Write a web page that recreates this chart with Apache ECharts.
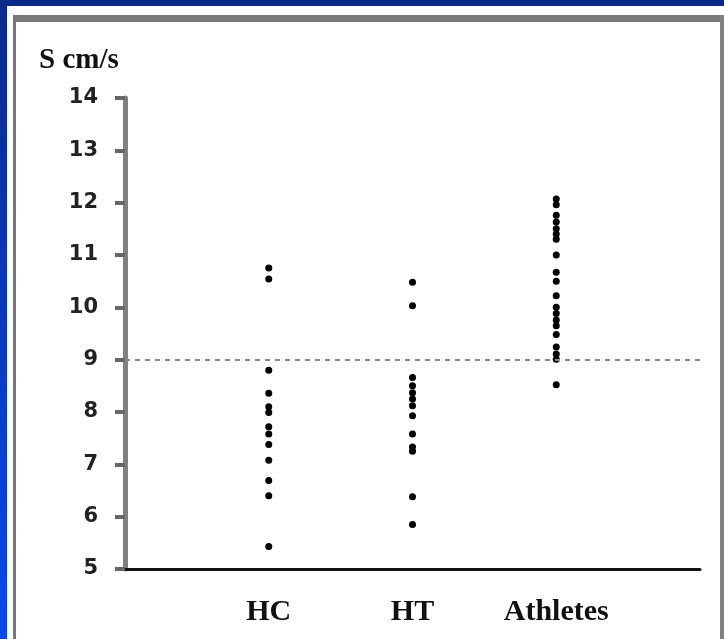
<!DOCTYPE html>
<html>
<head>
<meta charset="utf-8">
<script src="https://cdn.jsdelivr.net/npm/echarts@6/dist/echarts.min.js"></script>
<style>
html,body{margin:0;padding:0;background:#fff;}
#c{width:724px;height:639px;}
</style>
</head>
<body>
<div id="c"></div>
<script>
const categories = ['', 'HC', 'HT', 'Athletes', ''];
const yTicks = [5, 6, 7, 8, 9, 10, 11, 12, 13, 14];
const hcValues = [10.75, 10.54, 8.8, 8.36, 8.1, 7.99, 7.72, 7.58, 7.38, 7.08, 6.69, 6.4, 5.43];
const htValues = [10.48, 10.03, 8.66, 8.5, 8.37, 8.25, 8.12, 7.93, 7.58, 7.33, 7.25, 6.38, 5.85];
const athleteValues = [12.07, 11.96, 11.76, 11.63, 11.5, 11.4, 11.3, 11.0, 10.67, 10.5, 10.22, 10.0, 9.88, 9.76, 9.65, 9.48, 9.24, 9.11, 9.01, 8.52];
const thresholdValue = 9;

function toPoints(catIndex, vals) { return vals.map(v => [catIndex, v]); }

const chart = echarts.init(document.getElementById('c'), null, {renderer: 'canvas'});
const dotStyle = {color: '#000', opacity: 1};
chart.setOption({
  animation: false,
  backgroundColor: '#fff',
  graphic: [
    {type: 'rect', z: -10, silent: true, shape: {x: 0, y: 0, width: 724, height: 639},
     style: {fill: new echarts.graphic.LinearGradient(0, 0, 0, 1, [{offset: 0, color: '#0a2a8a'}, {offset: 1, color: '#0b48ea'}])}},
    {type: 'rect', z: -9, silent: true, shape: {x: 7, y: 6, width: 717, height: 633}, style: {fill: '#fff'}},
    {type: 'rect', z: -8, silent: true, shape: {x: 13, y: 15, width: 711, height: 7}, style: {fill: '#7a7a7a'}},
    {type: 'rect', z: -8, silent: true, shape: {x: 13, y: 15, width: 3, height: 624}, style: {fill: '#777'}},
    {type: 'rect', z: -8, silent: true, shape: {x: 720, y: 15, width: 4, height: 624}, style: {fill: '#808080'}}
  ],
  title: {
    text: 'S cm/s', left: 34, top: 41,
    textStyle: {fontFamily: 'Liberation Serif', fontWeight: 'bold', fontSize: 29, color: '#111'}
  },
  grid: {left: 125, right: 24, top: 98, bottom: 70, containLabel: false},
  xAxis: {
    type: 'category', data: categories, boundaryGap: false,
    axisLine: {show: true, lineStyle: {color: '#111', width: 3}},
    axisTick: {show: false},
    splitLine: {show: false},
    axisLabel: {interval: 0, margin: 28, fontFamily: 'Liberation Serif', fontWeight: 'bold', fontSize: 30, color: '#111'}
  },
  yAxis: {
    type: 'value', min: 5, max: 14, interval: 1,
    axisLine: {show: true, lineStyle: {color: '#808080', width: 5}},
    axisTick: {show: true, length: 10, lineStyle: {color: '#666', width: 4}},
    splitLine: {show: false},
    axisLabel: {margin: 27, fontFamily: 'DejaVu Sans', fontWeight: 'bold', fontSize: 21, color: '#222',
      formatter: v => yTicks.includes(v) ? String(v) : ''}
  },
  series: [
    {type: 'scatter', name: 'HC', data: toPoints(1, hcValues), symbol: 'circle', symbolSize: 7, itemStyle: dotStyle,
     markLine: {silent: true, symbol: 'none', label: {show: false},
       lineStyle: {color: '#888', type: [5, 5], width: 2}, data: [{yAxis: thresholdValue}]}},
    {type: 'scatter', name: 'HT', data: toPoints(2, htValues), symbol: 'circle', symbolSize: 7, itemStyle: dotStyle},
    {type: 'scatter', name: 'Athletes', data: toPoints(3, athleteValues), symbol: 'circle', symbolSize: 7, itemStyle: dotStyle}
  ]
});
</script>
</body>
</html>
